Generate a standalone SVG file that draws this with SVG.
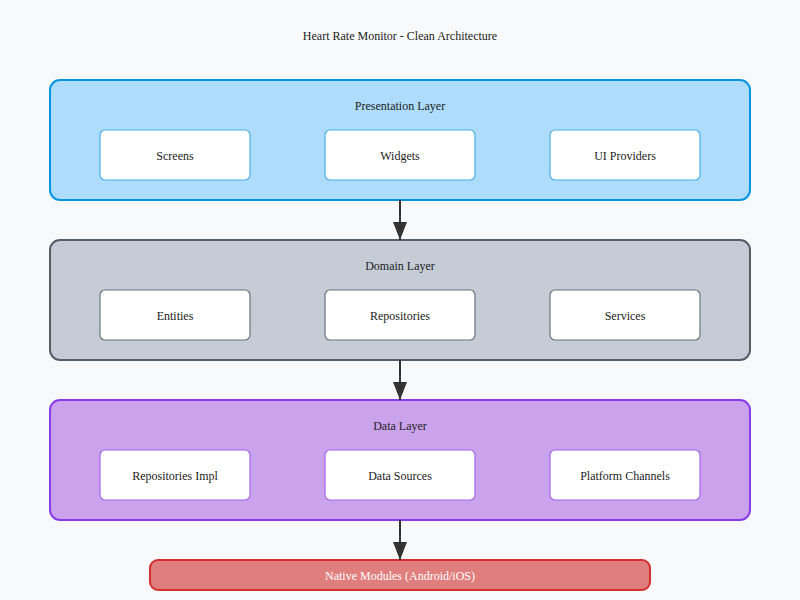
<svg xmlns="http://www.w3.org/2000/svg" width="800" height="600" viewBox="0 0 800 600">
<style>
text{font-family:Tinos,"Liberation Serif",serif;font-size:12px;fill:#222;text-anchor:middle;dominant-baseline:middle}
.layer{stroke-width:2}
.box{fill:#fff;stroke-width:1.2}
.pres .layer{fill:#ADDCFC;stroke:#0A93E0}
.pres .box{stroke:#4BB0E8}
.dom .layer{fill:#C5CCD5;stroke:#545D68}
.dom .box{stroke:#6B737D}
.data .layer{fill:#CBA3EC;stroke:#8A3BE8}
.data .box{stroke:#A066EE}
.conn line{stroke:#333;stroke-width:2}
</style>
<defs>
<marker id="ah" markerWidth="18" markerHeight="14" refX="18" refY="7" orient="auto" markerUnits="userSpaceOnUse">
<path d="M0,0 L18,7 L0,14 Z" fill="#333"/>
</marker>
</defs>
<rect width="800" height="600" fill="#F8F9FA"/>
<text x="400" y="37">Heart Rate Monitor - Clean Architecture</text>
<g id="presentation" class="pres">
<rect class="layer" x="50" y="80" width="700" height="120" rx="10"/>
<text x="400" y="107">Presentation Layer</text>
<g id="screens"><rect class="box" x="100" y="130" width="150" height="50" rx="5"/><text x="175" y="157">Screens</text></g>
<g id="widgets"><rect class="box" x="325" y="130" width="150" height="50" rx="5"/><text x="400" y="157">Widgets</text></g>
<g id="uiproviders"><rect class="box" x="550" y="130" width="150" height="50" rx="5"/><text x="625" y="157">UI Providers</text></g>
</g>
<g id="domain" class="dom">
<rect class="layer" x="50" y="240" width="700" height="120" rx="10"/>
<text x="400" y="267">Domain Layer</text>
<g id="entities"><rect class="box" x="100" y="290" width="150" height="50" rx="5"/><text x="175" y="317">Entities</text></g>
<g id="repositories"><rect class="box" x="325" y="290" width="150" height="50" rx="5"/><text x="400" y="317">Repositories</text></g>
<g id="services"><rect class="box" x="550" y="290" width="150" height="50" rx="5"/><text x="625" y="317">Services</text></g>
</g>
<g id="data" class="data">
<rect class="layer" x="50" y="400" width="700" height="120" rx="10"/>
<text x="400" y="427">Data Layer</text>
<g id="repoimpl"><rect class="box" x="100" y="450" width="150" height="50" rx="5"/><text x="175" y="477">Repositories Impl</text></g>
<g id="datasources"><rect class="box" x="325" y="450" width="150" height="50" rx="5"/><text x="400" y="477">Data Sources</text></g>
<g id="platformchannels"><rect class="box" x="550" y="450" width="150" height="50" rx="5"/><text x="625" y="477">Platform Channels</text></g>
</g>
<g id="native">
<rect x="150" y="560" width="500" height="30" rx="8" fill="#E07D7D" stroke="#D32F2F" stroke-width="2"/>
<text x="400" y="577" style="fill:#fff">Native Modules (Android/iOS)</text>
</g>
<g id="connectors" class="conn">
<line x1="400" y1="200" x2="400" y2="240" marker-end="url(#ah)"/>
<line x1="400" y1="360" x2="400" y2="400" marker-end="url(#ah)"/>
<line x1="400" y1="520" x2="400" y2="560" marker-end="url(#ah)"/>
</g>
</svg>
